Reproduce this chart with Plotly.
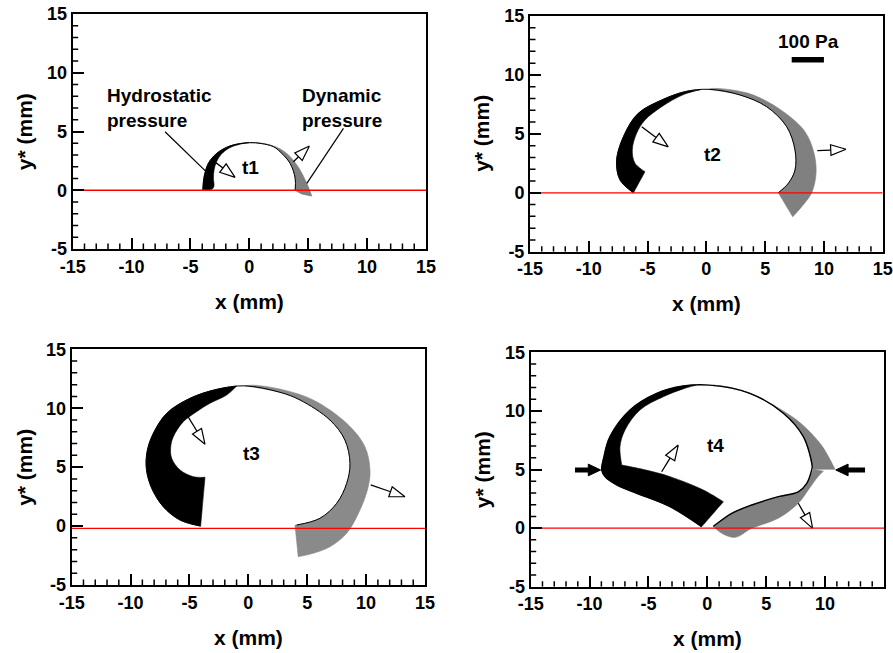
import math
import plotly.graph_objects as go

FONT = "Liberation Sans, Arial, Helvetica, sans-serif"

X_RANGE = [-15, 15]
Y_RANGE = [-5, 15]
X_TICKS = [-15, -10, -5, 0, 5, 10, 15]
X_TICK_TEXT = ["-15", "-10", "-5", "0", "5", "10", "15"]
Y_TICKS = [-5, 0, 5, 10, 15]
Y_TICK_TEXT = ["-5", "0", "5", "10", "15"]
X_MINOR = list(range(-15, 16))
Y_MINOR = list(range(-5, 16))
PANEL_LABELS = ["t1", "t2", "t3", "t4"]

# ---------------- t1 ----------------
t1_surface_x = [-3.95, -3.84, -3.48, -2.77, -1.64, 0.0, 1.0, 2.04, 2.61, 3.46, 3.89, 3.89]
t1_surface_y = [0.05, 1.15, 2.29, 3.14, 3.77, 4.05, 3.98, 3.71, 3.28, 2.29, 1.02, 0.0]
t1_hydro_x = [-3.95, -3.84, -3.48, -2.77, -1.64, -0.5, 0.0, -0.8, -1.7, -2.4, -2.8, -3.0, -3.05, -3.0, -3.1, -3.5]
t1_hydro_y = [0.05, 1.15, 2.29, 3.14, 3.77, 4.02, 4.05, 3.92, 3.6, 3.05, 2.4, 1.7, 1.0, 0.4, 0.15, 0.0]
t1_dyn_x = [0.0, 1.0, 2.04, 2.61, 3.46, 3.89, 3.9, 4.4, 5.31, 4.88, 4.31, 3.7, 2.9, 1.8, 0.5]
t1_dyn_y = [4.05, 3.98, 3.71, 3.28, 2.29, 1.02, 0.0, -0.3, -0.5, 0.59, 1.72, 2.6, 3.35, 3.85, 4.06]
t1_arrow_start_x = [-2.85, 3.74]
t1_arrow_start_y = [2.35, 2.43]
t1_arrow_end_x = [-1.21, 5.1]
t1_arrow_end_y = [1.1, 3.77]
t1_leader_start_x = [-7.16, 7.99]
t1_leader_start_y = [4.98, 5.27]
t1_leader_end_x = [-3.67, 4.88]
t1_leader_end_y = [1.58, 0.59]
t1_label_xy = [0.1, 1.95]

# ---------------- t2 ----------------
t2_surface_x = [-6.2, -7.34, -7.63, -6.92, -5.79, -3.8, -1.82, 0.17, 2.86, 5.13, 6.83, 7.54, 7.54, 6.97, 6.12]
t2_surface_y = [0.0, 1.08, 2.78, 5.05, 6.74, 7.87, 8.58, 8.78, 8.3, 7.3, 5.61, 3.63, 1.93, 0.8, 0.0]
t2_hydro_x = [-6.2, -7.34, -7.63, -6.92, -5.79, -3.8, -1.82, -0.5, -1.9, -3.8, -5.22, -5.93, -6.3, -6.07, -5.22]
t2_hydro_y = [0.0, 1.08, 2.78, 5.05, 6.74, 7.87, 8.58, 8.75, 8.35, 7.3, 6.17, 5.05, 3.63, 2.51, 1.79]
t2_dyn_x = [0.17, 2.86, 5.13, 6.83, 7.54, 7.54, 6.97, 6.12, 7.35, 8.11, 8.96, 9.33, 9.16, 8.39, 6.55, 4.0, 2.0, 0.5]
t2_dyn_y = [8.78, 8.3, 7.3, 5.61, 3.63, 1.93, 0.8, 0.0, -2.03, -1.18, 0.0, 1.65, 3.35, 5.18, 6.88, 8.3, 8.75, 8.85]
t2_arrow_start_x = [-5.5, 9.44]
t2_arrow_start_y = [5.6, 3.57]
t2_arrow_end_x = [-3.24, 11.88]
t2_arrow_end_y = [3.9, 3.69]
t2_label_xy = [0.54, 3.25]
scale_bar_x = [7.26, 10.0]
scale_bar_y = [11.28, 11.28]
scale_bar_text = "100 Pa"
scale_bar_text_xy = [8.7, 12.8]

# ---------------- t3 ----------------
t3_surface_x = [-4.05, -5.8, -7.22, -8.2, -8.65, -8.6, -8.1, -6.93, -4.96, -2.69, -0.3,
                2.69, 4.39, 6.93, 8.2, 8.63, 8.35, 7.5, 6.08, 4.1]
t3_surface_y = [0.0, 0.51, 1.64, 3.2, 4.8, 6.3, 7.8, 9.57, 10.84, 11.6, 11.9,
                11.35, 10.7, 9.0, 7.3, 5.33, 3.63, 1.93, 0.66, 0.09]
t3_hydro_x = [-4.05, -5.8, -7.22, -8.2, -8.65, -8.6, -8.1, -6.93, -4.96, -2.69, -1.0,
              -1.84, -3.26, -4.39, -5.52, -6.37, -6.59, -6.51, -5.8, -4.67, -3.68]
t3_hydro_y = [0.0, 0.51, 1.64, 3.2, 4.8, 6.3, 7.8, 9.57, 10.84, 11.6, 11.88,
              11.12, 10.42, 9.71, 8.86, 7.58, 6.74, 5.75, 4.76, 4.19, 4.14]
t3_dyn_x = [-0.3, 2.69, 4.39, 6.93, 8.2, 8.63, 8.35, 7.5, 6.08, 4.1, 3.96, 4.24, 5.51, 6.93,
            8.35, 9.48, 10.18, 10.33, 9.9, 8.35, 5.51, 3.0, 0.5]
t3_dyn_y = [11.9, 11.35, 10.7, 9.0, 7.3, 5.33, 3.63, 1.93, 0.66, 0.09, 0.09, -2.6, -2.31, -1.75,
            -0.61, 1.36, 3.34, 4.76, 6.74, 8.72, 10.7, 11.55, 11.95]
t3_arrow_start_x = [-5.38, 10.39]
t3_arrow_start_y = [9.71, 3.49]
t3_arrow_end_x = [-3.68, 13.3]
t3_arrow_end_y = [6.94, 2.49]
t3_label_xy = [0.28, 6.18]

# ---------------- t4 ----------------
t4_surface_x = [-0.48, -3.17, -6.0, -7.7, -8.69, -8.97, -8.8, -8.27, -6.57, -4.3, -2.04, 0.2,
                3.62, 6.45, 8.15, 8.9, 8.86, 8.44, 7.72, 6.02, 3.77, 2.07, 0.65, 0.5]
t4_surface_y = [0.12, 1.83, 2.97, 3.68, 4.39, 4.96, 6.0, 7.8, 10.08, 11.5, 12.12, 12.2,
                11.5, 9.8, 7.8, 5.3, 4.96, 3.82, 3.1, 2.68, 1.97, 1.26, 0.26, 0.15]
t4_hydro_x = [-1.0, -2.04, -4.3, -6.57, -8.27, -8.8, -8.97, -8.69, -7.7, -6.0, -3.17, -0.48,
              1.36, -0.34, -3.17, -5.2, -7.27, -7.42, -6.99, -5.72, -3.74, -2.0]
t4_hydro_y = [12.18, 12.12, 11.5, 10.08, 7.8, 6.0, 4.96, 4.39, 3.68, 2.97, 1.83, 0.12,
              2.25, 3.25, 4.39, 4.95, 5.38, 6.95, 8.37, 10.08, 11.21, 11.9]
t4_dyn_top_x = [0.5, 3.62, 6.45, 8.15, 8.9, 9.0, 10.84, 10.2, 9.56, 7.59, 4.19, 2.0]
t4_dyn_top_y = [12.2, 11.5, 9.8, 7.8, 5.3, 5.02, 5.02, 6.25, 7.24, 9.22, 11.21, 12.0]
t4_dyn_low_x = [9.0, 8.44, 7.72, 6.02, 3.77, 2.07, 0.65, 0.5, 1.22, 2.35, 3.77, 6.02, 7.72, 8.6, 9.4, 9.85]
t4_dyn_low_y = [5.02, 3.82, 3.1, 2.68, 1.97, 1.26, 0.26, 0.15, -0.44, -0.79, -0.02, 0.84, 2.12, 3.3, 4.4, 4.85]
t4_arrow_start_x = [-3.88, 7.72]
t4_arrow_start_y = [4.81, 2.12]
t4_arrow_end_x = [-2.47, 8.94]
t4_arrow_end_y = [7.09, -0.02]
t4_solid_start_x = [-11.24, 13.39]
t4_solid_start_y = [4.96, 4.96]
t4_solid_end_x = [-9.06, 10.9]
t4_solid_end_y = [4.96, 4.96]
t4_label_xy = [0.68, 7.02]

# wall (red) line level per panel
wall_y = [0.0, 0.0, -0.2, 0.0]

# ---------------- layout geometry (pixels) ----------------
W, H = 893, 653
panel_px = [
    (72.7, 426.0, 14.0, 249.0),
    (530.0, 882.7, 16.0, 251.7),
    (71.7, 425.0, 349.3, 585.0),
    (530.7, 884.0, 352.3, 586.7),
]
MAJOR_LEN_PX = 11
MINOR_LEN_PX = 5.5

BLACK = "#000000"
GRAY = "#808080"

fig = go.Figure()


def axn(i):
    return ("x" if i == 0 else f"x{i+1}"), ("y" if i == 0 else f"y{i+1}")


def with_corners(xs, ys, corners):
    ox, oy = [], []
    for k, (a, b) in enumerate(zip(xs, ys)):
        ox.append(a)
        oy.append(b)
        if k in corners:
            ox.append(a)
            oy.append(b)
    return ox, oy


def poly(i, xs, ys, color, corners=()):
    xa, ya = axn(i)
    px_, py_ = with_corners(list(xs) + [xs[0]], list(ys) + [ys[0]],
                            set(corners) | {0, len(xs)})
    fig.add_trace(go.Scatter(x=px_, y=py_, mode="lines",
                             fill="toself", fillcolor=color,
                             line=dict(color=color, width=0.6, shape="spline", smoothing=1),
                             xaxis=xa, yaxis=ya, hoverinfo="skip"))


def line(i, xs, ys, color=BLACK, width=1.2, spline=False, corners=()):
    xa, ya = axn(i)
    xs2, ys2 = with_corners(xs, ys, set(corners))
    fig.add_trace(go.Scatter(x=xs2, y=ys2, mode="lines",
                             line=dict(color=color, width=width,
                                       shape="spline" if spline else "linear"),
                             xaxis=xa, yaxis=ya, hoverinfo="skip"))


def open_arrows(i, sx, sy, ex, ey, L=1.3, Wd=0.45):
    xa, ya = axn(i)
    for x0, y0, x1, y1 in zip(sx, sy, ex, ey):
        dx, dy = x1 - x0, y1 - y0
        d = math.hypot(dx, dy)
        ux, uy = dx / d, dy / d
        nx, ny = -uy, ux
        bx, by = x1 - L * ux, y1 - L * uy
        line(i, [x0, bx], [y0, by], BLACK, 1.3)
        fig.add_trace(go.Scatter(x=[x1, bx + Wd * nx, bx - Wd * nx, x1],
                                 y=[y1, by + Wd * ny, by - Wd * ny, y1],
                                 mode="lines", fill="toself", fillcolor="white",
                                 line=dict(color=BLACK, width=1.2),
                                 xaxis=xa, yaxis=ya, hoverinfo="skip"))


def solid_arrows(i, sx, sy, ex, ey, L=1.05, Wd=0.5):
    xa, ya = axn(i)
    for x0, y0, x1, y1 in zip(sx, sy, ex, ey):
        dx, dy = x1 - x0, y1 - y0
        d = math.hypot(dx, dy)
        ux, uy = dx / d, dy / d
        nx, ny = -uy, ux
        bx, by = x1 - L * ux, y1 - L * uy
        line(i, [x0, bx + 0.1 * ux], [y0, by + 0.1 * uy], BLACK, 5)
        fig.add_trace(go.Scatter(x=[x1, bx + Wd * nx, bx - Wd * nx, x1],
                                 y=[y1, by + Wd * ny, by - Wd * ny, y1],
                                 mode="lines", fill="toself", fillcolor=BLACK,
                                 line=dict(color=BLACK, width=1),
                                 xaxis=xa, yaxis=ya, hoverinfo="skip"))


def minor_tick_marks(i):
    """Short inside tick marks every 1 mm on the bottom and left axes."""
    l, r, t, b = panel_px[i]
    ux = (X_RANGE[1] - X_RANGE[0]) / (r - l)
    uy = (Y_RANGE[1] - Y_RANGE[0]) / (b - t)
    xs, ys = [], []
    for v in X_MINOR:
        if v in X_TICKS:
            continue
        xs += [v, v, None]
        ys += [Y_RANGE[0], Y_RANGE[0] + MINOR_LEN_PX * uy, None]
    for v in Y_MINOR:
        if v in Y_TICKS:
            continue
        xs += [X_RANGE[0], X_RANGE[0] + MINOR_LEN_PX * ux, None]
        ys += [v, v, None]
    xa, ya = axn(i)
    fig.add_trace(go.Scatter(x=xs, y=ys, mode="lines", line=dict(color=BLACK, width=1.5),
                             xaxis=xa, yaxis=ya, hoverinfo="skip"))


# ---- t1 ----
poly(0, t1_hydro_x, t1_hydro_y, BLACK, corners=(6, 15))
poly(0, t1_dyn_x, t1_dyn_y, GRAY, corners=(6, 8))
line(0, t1_surface_x, t1_surface_y, BLACK, 1.0, spline=True)
open_arrows(0, t1_arrow_start_x, t1_arrow_start_y, t1_arrow_end_x, t1_arrow_end_y)
for x0, y0, x1, y1 in zip(t1_leader_start_x, t1_leader_start_y, t1_leader_end_x, t1_leader_end_y):
    line(0, [x0, x1], [y0, y1], BLACK, 1.2)

# ---- t2 ----
poly(1, t2_hydro_x, t2_hydro_y, BLACK, corners=(7, 14))
poly(1, t2_dyn_x, t2_dyn_y, GRAY, corners=(7, 8))
line(1, t2_surface_x, t2_surface_y, BLACK, 1.0, spline=True)
open_arrows(1, t2_arrow_start_x, t2_arrow_start_y, t2_arrow_end_x, t2_arrow_end_y)
line(1, scale_bar_x, scale_bar_y, BLACK, 5.5)

# ---- t3 ----
poly(2, t3_hydro_x, t3_hydro_y, BLACK, corners=(10, 20))
poly(2, t3_dyn_x, t3_dyn_y, "#8a8a8a", corners=(10, 11))
line(2, t3_surface_x, t3_surface_y, BLACK, 1.0, spline=True)
open_arrows(2, t3_arrow_start_x, t3_arrow_start_y, t3_arrow_end_x, t3_arrow_end_y)

# ---- t4 ----
poly(3, t4_hydro_x, t4_hydro_y, BLACK, corners=(11, 12, 16))
poly(3, t4_dyn_top_x, t4_dyn_top_y, GRAY, corners=(5, 6))
poly(3, t4_dyn_low_x, t4_dyn_low_y, GRAY, corners=(7, 15))
line(3, t4_surface_x, t4_surface_y, BLACK, 1.4, spline=True, corners=(16,))
open_arrows(3, t4_arrow_start_x, t4_arrow_start_y, t4_arrow_end_x, t4_arrow_end_y)
solid_arrows(3, t4_solid_start_x, t4_solid_start_y, t4_solid_end_x, t4_solid_end_y)

# red wall lines (on top) and minor tick marks
for i in range(4):
    line(i, X_RANGE, [wall_y[i], wall_y[i]], "#ff0000", 1.3)
    minor_tick_marks(i)

layout = dict(width=W, height=H, margin=dict(l=0, r=0, t=0, b=0),
              paper_bgcolor="white", plot_bgcolor="white", showlegend=False,
              font=dict(family=FONT, color="black"))
annotations = []
label_xy = [t1_label_xy, t2_label_xy, t3_label_xy, t4_label_xy]
for i, (l, r, t, b) in enumerate(panel_px):
    xa, ya = axn(i)
    xkey = "xaxis" if i == 0 else f"xaxis{i+1}"
    ykey = "yaxis" if i == 0 else f"yaxis{i+1}"
    common = dict(showgrid=False, zeroline=False, showline=True, mirror=True,
                  linecolor="black", linewidth=2, ticks="inside", ticklen=MAJOR_LEN_PX,
                  tickcolor="black", tickwidth=1.5, tickmode="array",
                  tickfont=dict(size=18, weight="bold"),
                  automargin=False)
    layout[xkey] = dict(common, domain=[l / W, r / W], range=X_RANGE, anchor=ya,
                        tickvals=X_TICKS, ticktext=[f"<b>{s}</b>" for s in X_TICK_TEXT])
    layout[ykey] = dict(common, domain=[1 - b / H, 1 - t / H], range=Y_RANGE, anchor=xa,
                        tickvals=Y_TICKS, ticktext=[f"<b>{s}</b>" for s in Y_TICK_TEXT])
    annotations.append(dict(text="<b>x (mm)</b>", xref="paper", yref="paper",
                            x=(l + r) / 2 / W, y=1 - (b + 52) / H, showarrow=False,
                            xanchor="center", yanchor="middle",
                            font=dict(family=FONT, size=21, color="black")))
    annotations.append(dict(text="<b>y* (mm)</b>", xref="paper", yref="paper",
                            x=(l - 48) / W, y=1 - (t + b) / 2 / H, showarrow=False,
                            textangle=-90, xanchor="center", yanchor="middle",
                            font=dict(family=FONT, size=21, color="black")))
    annotations.append(dict(text=f"<b>{PANEL_LABELS[i]}</b>", xref=xa, yref=ya,
                            x=label_xy[i][0], y=label_xy[i][1], showarrow=False,
                            font=dict(family=FONT, size=19, color="black")))

annotations.append(dict(text="<b>Hydrostatic<br>pressure</b>", xref="x", yref="y", x=-12.25, y=6.96,
                        showarrow=False, xanchor="left", yanchor="middle", align="left",
                        font=dict(family=FONT, size=19, color="black")))
annotations.append(dict(text="<b>Dynamic<br>pressure</b>", xref="x", yref="y", x=4.31, y=7.04,
                        showarrow=False, xanchor="left", yanchor="middle", align="left",
                        font=dict(family=FONT, size=19, color="black")))
annotations.append(dict(text=f"<b>{scale_bar_text}</b>", xref="x2", yref="y2",
                        x=scale_bar_text_xy[0], y=scale_bar_text_xy[1], showarrow=False,
                        font=dict(family=FONT, size=19, color="black")))
layout["annotations"] = annotations

fig.update_layout(**layout)

# force one more axis redraw once the page is up (same ranges, nothing moves)
POST = """
var gd = document.getElementById('{plot_id}');
Plotly.relayout(gd, {'xaxis.range': [-15, 15], 'xaxis2.range': [-15, 15],
                     'xaxis3.range': [-15, 15], 'xaxis4.range': [-15, 15]});
"""
fig.write_html("out.html", post_script=POST)
